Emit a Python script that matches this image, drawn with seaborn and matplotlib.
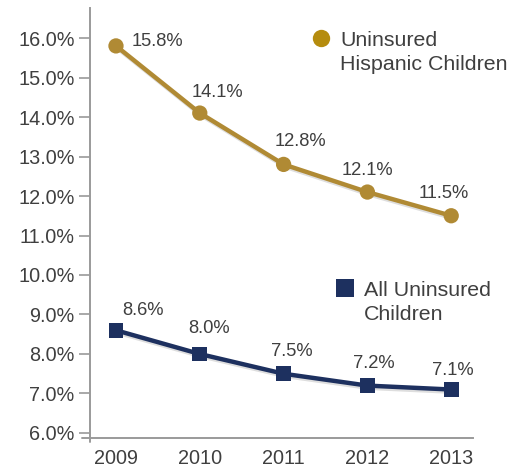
import matplotlib
matplotlib.use("Agg")
import matplotlib.pyplot as plt
import matplotlib.patheffects as pe
from matplotlib.lines import Line2D
import seaborn as sns
import pandas as pd

years = [2009, 2010, 2011, 2012, 2013]
hispanic = [15.8, 14.1, 12.8, 12.1, 11.5]
all_children = [8.6, 8.0, 7.5, 7.2, 7.1]
y_ticks = [6, 7, 8, 9, 10, 11, 12, 13, 14, 15, 16]
hispanic_name = ["Uninsured", "Hispanic Children"]
all_name = ["All Uninsured", "Children"]

GOLD = "#B08A34"
GOLD_KEY = "#B58C0E"
NAVY = "#1D305F"
TEXT = "#3F3F3F"
AXIS = "#9A9A9A"

sns.set_style("white")
plt.rcParams["font.family"] = ["Liberation Sans", "DejaVu Sans"]

df = pd.DataFrame({"year": years, "hispanic": hispanic, "all": all_children})

W, H = 523, 468
fig = plt.figure(figsize=(W / 100, H / 100), dpi=100)
ax = fig.add_axes([90 / W, 30 / H, 383 / W, 430 / H])

shadow = [pe.SimpleLineShadow(offset=(1.0, -1.6), shadow_color="#000000", alpha=0.13),
          pe.Normal()]

sns.lineplot(data=df, x="year", y="hispanic", ax=ax, color=GOLD, linewidth=3.2,
             marker="o", markersize=11, markeredgewidth=0, path_effects=shadow)
sns.lineplot(data=df, x="year", y="all", ax=ax, color=NAVY, linewidth=3.2,
             marker="s", markersize=10.5, markeredgewidth=0, path_effects=shadow)

# value labels
gold_off = [(16, 4, "left"), (18, 21, "center"), (17, 23, "center"), (0, 22, "center"), (-7, 22, "center")]
navy_off = [(27, 20, "center"), (9, 25, "center"), (8, 22, "center"), (6, 22, "center"), (2, 19, "center")]
for x, v, (dx, dy, ha) in zip(years, hispanic, gold_off):
    ax.annotate(f"{v:.1f}%", (x, v), xytext=(dx, dy), textcoords="offset pixels",
                ha=ha, va="center", fontsize=13.2, color=TEXT)
for x, v, (dx, dy, ha) in zip(years, all_children, navy_off):
    ax.annotate(f"{v:.1f}%", (x, v), xytext=(dx, dy), textcoords="offset pixels",
                ha=ha, va="center", fontsize=13.2, color=TEXT)

ax.set_xlim(2008.69, 2013.26)
ax.set_ylim(5.873, 16.76)
ax.set_xticks(years)
ax.set_xticklabels([str(y) for y in years])
ax.set_yticks(y_ticks)
ax.set_yticklabels([f"{t:.1f}%" for t in y_ticks])
ax.set_xlabel("")
ax.set_ylabel("")

ax.tick_params(axis="y", length=8, width=1.2, color=AXIS, labelsize=14.3,
               labelcolor=TEXT, pad=3, left=True)
ax.tick_params(axis="x", length=0, labelsize=14.3, labelcolor=TEXT, pad=8)

for side in ["top", "right"]:
    ax.spines[side].set_visible(False)
for side in ["left", "bottom"]:
    ax.spines[side].set_color(AXIS)
    ax.spines[side].set_linewidth(1.4)

# bottom axis line continues a little past the left spine
ax.plot([-8 / 383, 0], [0, 0], transform=ax.transAxes, color=AXIS,
        linewidth=1.4, clip_on=False)
ax.plot([0, 0], [-4 / 430, 0], transform=ax.transAxes, color=AXIS,
        linewidth=1.4, clip_on=False)

# series keys: the marker sits beside the first line of each two-line name
h_key = Line2D([], [], marker="o", linestyle="none", markersize=12.5,
               markerfacecolor=GOLD_KEY, markeredgewidth=0)
a_key = Line2D([], [], marker="s", linestyle="none", markersize=13,
               markerfacecolor=NAVY, markeredgewidth=0)


def key(handle, names, marker_px, first_line_px):
    leg = ax.legend([handle], [names[0]], loc="center left",
                    bbox_to_anchor=((marker_px[0] - 9 - 90) / 383,
                                    1 - (first_line_px - 8) / 430),
                    frameon=False, fontsize=15.4, handlelength=0.9,
                    handletextpad=0.45, labelcolor=TEXT,
                    borderaxespad=0, borderpad=0)
    ax.legend_ = None
    ax.add_artist(leg)
    return leg


leg1 = key(h_key, hispanic_name, (320, 40), 40)
leg2 = key(a_key, all_name, (344, 290), 290)

fig.canvas.draw()
renderer = fig.canvas.get_renderer()
for leg, names, y2 in [(leg1, hispanic_name, 64), (leg2, all_name, 314)]:
    x0 = leg.get_texts()[0].get_window_extent(renderer).x0
    fig.text(x0 / W, 1 - y2 / H, names[1], ha="left", va="center",
             fontsize=15.4, color=TEXT)

fig.savefig("out.png", dpi=100)
